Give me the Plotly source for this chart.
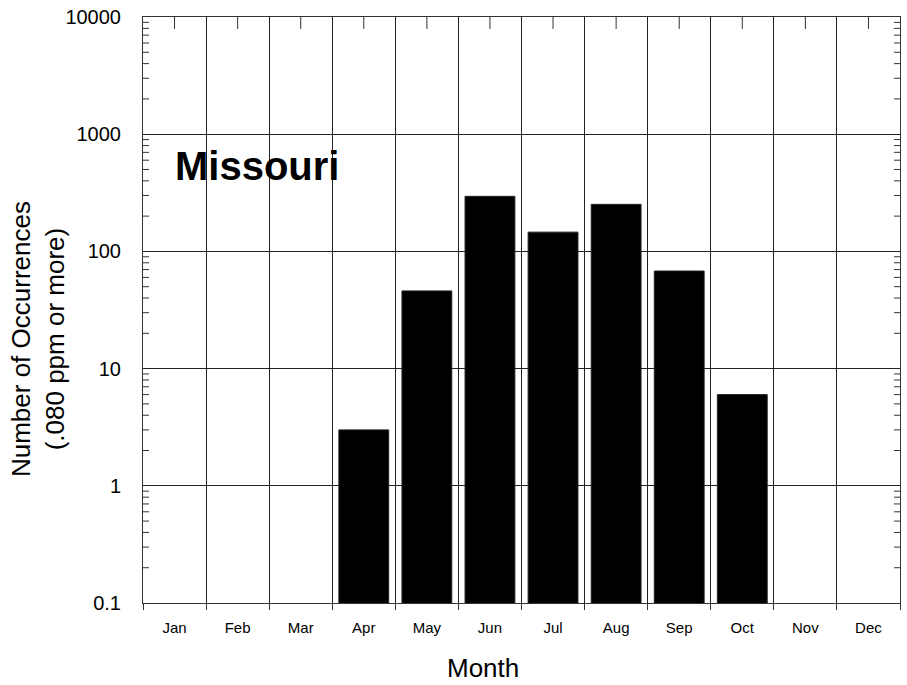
import plotly.graph_objects as go

# Monthly counts of days at .080 ppm or more
months = ["Jan", "Feb", "Mar", "Apr", "May", "Jun",
          "Jul", "Aug", "Sep", "Oct", "Nov", "Dec"]
occurrences = [None, None, None, 3, 46, 295, 146, 252, 68, 6, None, None]
y_tick_values = [0.1, 1, 10, 100, 1000, 10000]
y_tick_labels = ["0.1", "1", "10", "100", "1000", "10000"]
state_name = "Missouri"
x_title = "Month"
y_title = "Number of Occurrences<br>(.080 ppm or more)"

month_pos = list(range(1, len(months) + 1))
boundaries = [p - 0.5 for p in month_pos] + [len(months) + 0.5]
minor_vals = [m * 10 ** e for e in range(-1, 4) for m in range(2, 10)]

FONT = "Liberation Sans, Arial, sans-serif"
AXIS_COLOR = "#333333"
PLOT_W, PLOT_H = 758, 588
x_range = [0.5, len(months) + 0.5]
y_range = [-1, 4]

fig = go.Figure()
fig.add_trace(go.Bar(
    x=month_pos, y=occurrences, width=0.79,
    marker=dict(color="black", line=dict(color="#222222", width=1)),
    showlegend=False, hoverinfo="x+y",
))
# placeholder trace so the boundary axis is drawn
fig.add_trace(go.Scatter(x=[None], y=[None], xaxis="x2", yaxis="y",
                         showlegend=False, hoverinfo="skip"))

shapes = []
tick_line = dict(color=AXIS_COLOR, width=1)
# short inward ticks at each month centre along the top edge
for p in month_pos:
    shapes.append(dict(type="line", xref="x", yref="paper",
                       x0=p, x1=p, y0=1, y1=1 - 12 / PLOT_H, line=tick_line))
# minor log ticks on both the left and right edges
for v in minor_vals:
    shapes.append(dict(type="line", xref="paper", yref="y",
                       x0=0, x1=6 / PLOT_W, y0=v, y1=v, line=tick_line))
    shapes.append(dict(type="line", xref="paper", yref="y",
                       x0=1 - 6 / PLOT_W, x1=1, y0=v, y1=v, line=tick_line))

fig.update_layout(
    width=907, height=685,
    margin=dict(l=143, r=6, t=15, b=82),
    paper_bgcolor="white", plot_bgcolor="white",
    font=dict(family=FONT, color="black"),
    xaxis=dict(
        range=x_range, tickmode="array", tickvals=month_pos, ticktext=months,
        ticks="", showgrid=False, zeroline=False,
        showline=True, linecolor=AXIS_COLOR, linewidth=1, mirror=True,
        tickfont=dict(size=15), ticklabelstandoff=11,
    ),
    # month boundaries: gridlines plus short outside ticks
    xaxis2=dict(
        overlaying="x", anchor="y", side="bottom", range=x_range,
        tickmode="array", tickvals=boundaries, showticklabels=False,
        ticks="outside", ticklen=6, tickcolor=AXIS_COLOR, tickwidth=1,
        showgrid=True, gridcolor="#222222", gridwidth=1, zeroline=False,
        showline=False,
    ),
    yaxis=dict(
        type="log", range=y_range, tickmode="array",
        tickvals=y_tick_values, ticktext=y_tick_labels,
        ticks="", showgrid=True, gridcolor="#222222", gridwidth=1,
        zeroline=False,
        showline=True, linecolor=AXIS_COLOR, linewidth=1, mirror=True,
        tickfont=dict(size=20), ticklabelstandoff=17,
    ),
    shapes=shapes,
    annotations=[
        dict(text="<b>" + state_name + "</b>", xref="paper", yref="paper",
             x=0.04, y=0.745, xanchor="left", yanchor="middle",
             showarrow=False, font=dict(size=40, color="black")),
        dict(text=x_title, xref="paper", yref="paper",
             x=0.4485, y=-0.1105, xanchor="center", yanchor="middle",
             showarrow=False, font=dict(size=26, color="black")),
        dict(text=y_title, xref="paper", yref="paper", textangle=-90,
             x=-0.1385, y=0.4507, xanchor="center", yanchor="middle",
             showarrow=False, font=dict(size=26, color="black")),
    ],
)

fig.write_html("out.html")
